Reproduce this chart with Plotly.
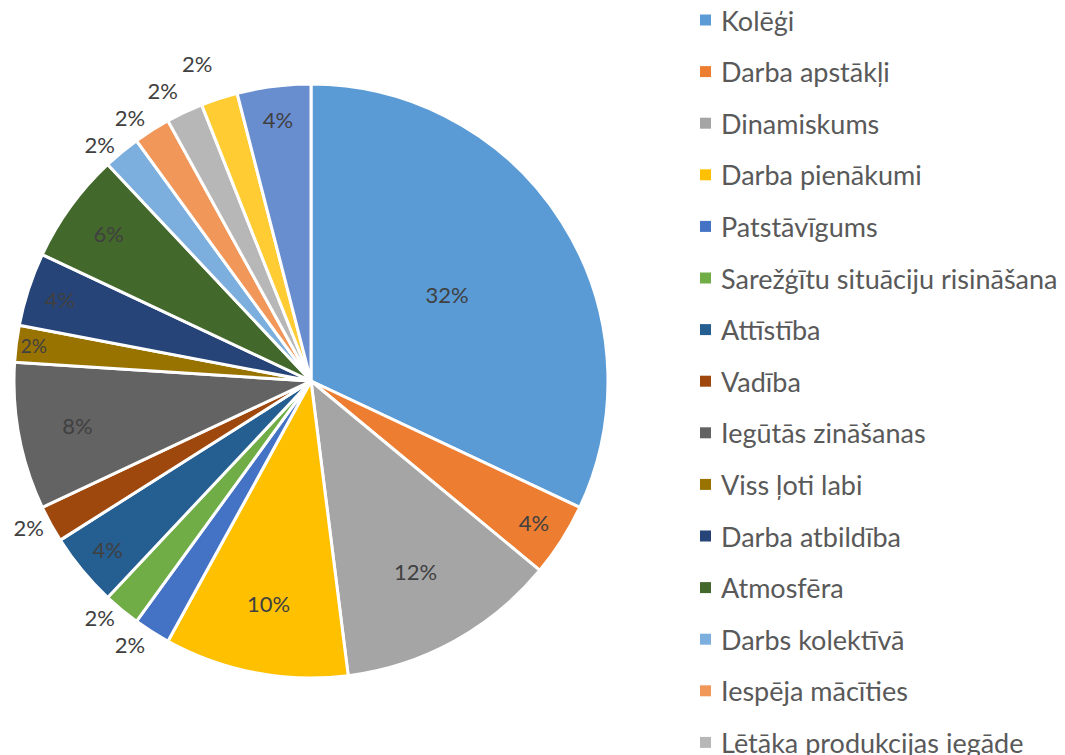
import plotly.graph_objects as go

labels = ["Kolēģi", "Darba apstākļi", "Dinamiskums", "Darba pienākumi", "Patstāvīgums",
          "Sarežģītu situāciju risināšana", "Attīstība", "Vadība", "Iegūtās zināšanas",
          "Viss ļoti labi", "Darba atbildība", "Atmosfēra", "Darbs kolektīvā",
          "Iespēja mācīties", "Lētāka produkcijas iegāde", "Elastīgs darba laiks", "Cits"]
values = [16, 2, 6, 5, 1, 1, 2, 1, 4, 1, 2, 3, 1, 1, 1, 1, 2]
colors = ["#5B9BD5", "#ED7D31", "#A5A5A5", "#FFC000", "#4472C4", "#70AD47", "#255E91",
          "#9E480E", "#636363", "#997300", "#264478", "#43682B", "#7CAFDD", "#F1975A",
          "#B7B7B7", "#FFCD33", "#698ED0"]
inside_small = ["Viss ļoti labi"]

W, H = 1065, 755
total = sum(values)
positions = ["inside" if (v / total >= 0.04 or lab in inside_small) else "outside"
             for lab, v in zip(labels, values)]

fig = go.Figure(go.Pie(
    labels=labels, values=values, sort=False, direction="clockwise", rotation=0,
    marker=dict(colors=colors, line=dict(color="white", width=3)),
    textinfo="percent", textposition=positions, insidetextorientation="horizontal",
    textfont=dict(family="Lato", size=22, color="#404040"),
    showlegend=False,
    domain=dict(x=[14 / W, 608 / W], y=[77 / H, 671 / H]),
))

# custom legend
shapes, annotations = [], []
y0, dy = 20, 51.6
for i, (lab, col) in enumerate(zip(labels, colors)):
    yc = y0 + i * dy
    shapes.append(dict(type="rect", xref="paper", yref="paper",
                       x0=700 / W, x1=711 / W, y0=1 - (yc + 5.5) / H, y1=1 - (yc - 5.5) / H,
                       fillcolor=col, line=dict(width=0)))
    annotations.append(dict(xref="paper", yref="paper", x=719 / W, y=1 - yc / H,
                            xanchor="left", yanchor="middle", text=lab, showarrow=False,
                            font=dict(family="Lato", size=27, color="#595959")))

fig.update_layout(width=W, height=H, margin=dict(l=0, r=0, t=0, b=0, autoexpand=False),
                  paper_bgcolor="white", plot_bgcolor="white",
                  shapes=shapes, annotations=annotations)

post = """
document.body.style.margin = '0';
document.body.style.overflow = 'hidden';
var gd = document.getElementById('{plot_id}');
function hideLines() {
  document.querySelectorAll('path.textline').forEach(function (e) { e.style.display = 'none'; });
}
hideLines();
if (gd && gd.on) { gd.on('plotly_afterplot', hideLines); }
"""
fig.write_html("out.html", post_script=post, config={"displayModeBar": False})
